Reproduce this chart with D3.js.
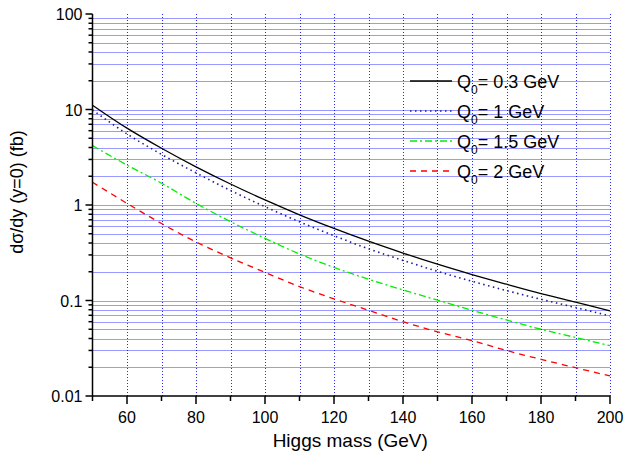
<!DOCTYPE html>
<html>
<head>
<meta charset="utf-8">
<script src="https://cdn.jsdelivr.net/npm/d3@7/dist/d3.min.js"></script>
<style>
  body { margin: 0; background: #fff; }
  text { font-family: "Liberation Sans", Arial, sans-serif; }
</style>
</head>
<body>
<div id="chart"></div>
<script>
// Data
const mass = [50, 60, 70, 80, 90, 100, 110, 120, 130, 140, 150, 160, 170, 180, 190, 200];
const q03 = [11.1, 6.38, 3.93, 2.51, 1.66, 1.13, 0.79, 0.569, 0.418, 0.314, 0.24, 0.187, 0.148, 0.118, 0.096, 0.078];
const q1 = [9.9, 5.55, 3.39, 2.17, 1.42, 0.96, 0.667, 0.477, 0.348, 0.263, 0.202, 0.159, 0.127, 0.103, 0.0845, 0.069];
const q15 = [4.18, 2.62, 1.69, 1.04, 0.67, 0.448, 0.307, 0.222, 0.167, 0.129, 0.101, 0.079, 0.0625, 0.050, 0.041, 0.0336];
const q2 = [1.73, 1.04, 0.64, 0.41, 0.28, 0.197, 0.14, 0.104, 0.079, 0.060, 0.047, 0.038, 0.030, 0.0242, 0.0198, 0.0162];

const seriesNames = ['0.3', '1', '1.5', '2'];
const xMajorTicks = [60, 80, 100, 120, 140, 160, 180, 200];
const yMajorTicks = [0.01, 0.1, 1, 10, 100];

const width = 625;
const height = 454;
const margin = { top: 14, right: 15, bottom: 58, left: 92.5 };

const svg = d3.select('#chart')
  .append('svg')
  .attr('width', width)
  .attr('height', height);

const x = d3.scaleLinear()
  .domain([50, 200])
  .range([margin.left, width - margin.right]);

const y = d3.scaleLog()
  .domain([0.01, 100])
  .range([height - margin.bottom, margin.top]);

// minor values for the log axis
const yMinor = [];
[0.01, 0.1, 1, 10].forEach(d => {
  for (let k = 2; k <= 9; k++) yMinor.push(d * k);
});
const xMinor = d3.range(50, 201, 10).filter(d => !xMajorTicks.includes(d));

// Grid
const grid = svg.append('g');
grid.selectAll('.hgrid')
  .data(yMinor.concat([0.1, 1, 10]))
  .enter()
  .append('line')
  .attr('x1', x(50))
  .attr('x2', x(200))
  .attr('y1', d => Math.round(y(d)) + 0.5)
  .attr('y2', d => Math.round(y(d)) + 0.5)
  .attr('stroke', '#0000ff')
  .attr('stroke-opacity', 0.8)
  .attr('stroke-dasharray', '1,1');

grid.selectAll('.vgrid')
  .data(d3.range(60, 201, 10))
  .enter()
  .append('line')
  .attr('x1', d => Math.round(x(d)) + 0.5)
  .attr('x2', d => Math.round(x(d)) + 0.5)
  .attr('y1', y(100))
  .attr('y2', y(0.01))
  .attr('stroke', '#0000ff')
  .attr('stroke-opacity', 0.85)
  .attr('stroke-dasharray', '1,2');

// Curves
const line = d3.line()
  .x(d => x(d[0]))
  .y(d => y(d[1]))
  .curve(d3.curveCatmullRom.alpha(0.5));

const series = [
  { values: q03, color: '#000000', dash: null, width: 1.3 },
  { values: q1, color: '#1a1aa0', dash: '1.5,3.5', width: 1.6 },
  { values: q15, color: '#00ee00', dash: '7,3,2,3', width: 1.3 },
  { values: q2, color: '#ff0000', dash: '6,5', width: 1.3 }
];

svg.selectAll('.curve')
  .data(series)
  .enter()
  .append('path')
  .attr('d', s => line(mass.map((m, i) => [m, s.values[i]])))
  .attr('fill', 'none')
  .attr('stroke', s => s.color)
  .attr('stroke-width', s => s.width)
  .attr('stroke-dasharray', s => s.dash);

// Axes
const axes = svg.append('g').attr('stroke', '#000').attr('stroke-width', 1.5);
axes.append('line')
  .attr('x1', x(50)).attr('x2', x(50))
  .attr('y1', y(100)).attr('y2', y(0.01));
axes.append('line')
  .attr('x1', x(50)).attr('x2', x(200))
  .attr('y1', y(0.01)).attr('y2', y(0.01));

axes.selectAll('.ymaj')
  .data(yMajorTicks)
  .enter()
  .append('line')
  .attr('x1', x(50) - 7).attr('x2', x(50))
  .attr('y1', d => y(d)).attr('y2', d => y(d));
axes.selectAll('.ymin')
  .data(yMinor)
  .enter()
  .append('line')
  .attr('x1', x(50) - 4).attr('x2', x(50))
  .attr('y1', d => y(d)).attr('y2', d => y(d));
axes.selectAll('.xmaj')
  .data(xMajorTicks)
  .enter()
  .append('line')
  .attr('x1', d => x(d)).attr('x2', d => x(d))
  .attr('y1', y(0.01)).attr('y2', y(0.01) + 8);
axes.selectAll('.xmin')
  .data(xMinor)
  .enter()
  .append('line')
  .attr('x1', d => x(d)).attr('x2', d => x(d))
  .attr('y1', y(0.01)).attr('y2', y(0.01) + 5);

// Tick labels
svg.selectAll('.ylab')
  .data(yMajorTicks)
  .enter()
  .append('text')
  .attr('x', x(50) - 10)
  .attr('y', d => y(d) + 6)
  .attr('text-anchor', 'end')
  .attr('font-size', 16)
  .text(d => d3.format('~g')(d));

svg.selectAll('.xlab')
  .data(xMajorTicks)
  .enter()
  .append('text')
  .attr('x', d => x(d))
  .attr('y', y(0.01) + 27)
  .attr('text-anchor', 'middle')
  .attr('font-size', 16)
  .text(d => d);

// Axis titles
svg.append('text')
  .attr('x', (x(50) + x(200)) / 2 - 1)
  .attr('y', 447)
  .attr('text-anchor', 'middle')
  .attr('font-size', 19)
  .text('Higgs mass (GeV)');

svg.append('text')
  .attr('transform', `translate(23, ${192}) rotate(-90)`)
  .attr('text-anchor', 'middle')
  .attr('font-size', 18)
  .text('dσ/dy (y=0) (fb)');

// Legend
const legend = svg.append('g');
const rows = legend.selectAll('g')
  .data(series)
  .enter()
  .append('g')
  .attr('transform', (d, i) => `translate(0, ${81 + i * 30})`);

rows.append('line')
  .attr('x1', 410).attr('x2', 452)
  .attr('stroke', d => d.color)
  .attr('stroke-width', d => d.width)
  .attr('stroke-dasharray', d => d.dash);

const lt = rows.append('text')
  .attr('x', 457)
  .attr('y', 7)
  .attr('font-size', 18);
lt.append('tspan').text('Q');
lt.append('tspan').attr('font-size', 12).attr('dy', 6).text('0');
lt.append('tspan').attr('dy', -6).text((d, i) => `= ${seriesNames[i]} GeV`);
</script>
</body>
</html>
